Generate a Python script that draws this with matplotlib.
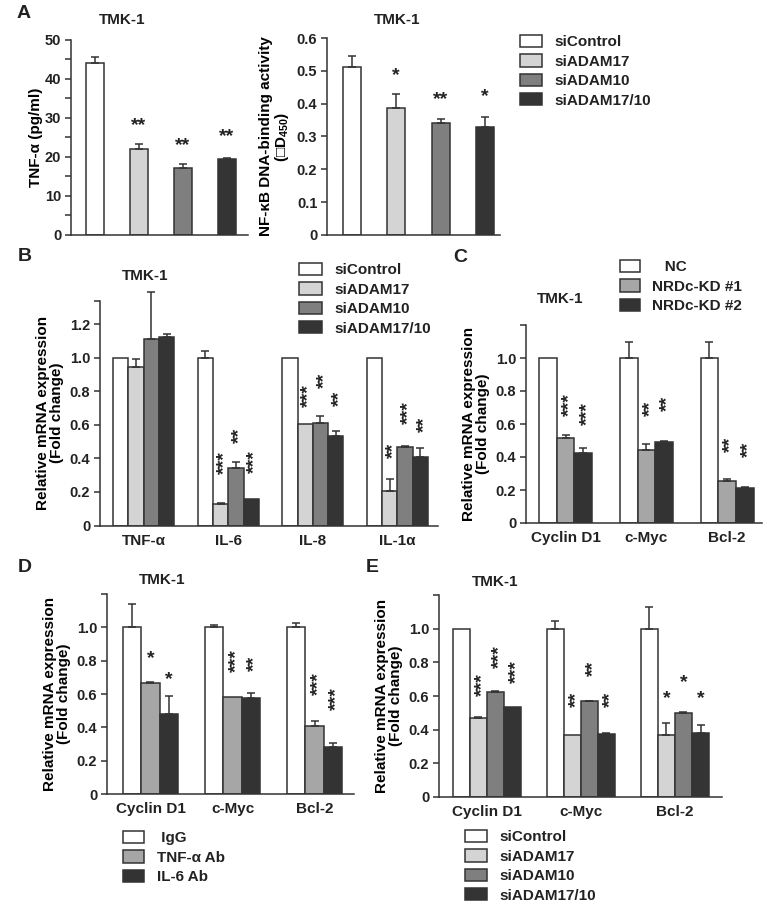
import numpy as np
import matplotlib
matplotlib.use('Agg')
import matplotlib.pyplot as plt

plt.rcParams['font.family'] = ['Liberation Sans', 'DejaVu Sans']
plt.rcParams['font.weight'] = 'bold'
plt.rcParams['axes.labelweight'] = 'bold'
plt.rcParams['mathtext.fontset'] = 'custom'
plt.rcParams['mathtext.bf'] = 'Liberation Sans:bold'
plt.rcParams['mathtext.rm'] = 'Liberation Sans:bold'
plt.rcParams['mathtext.default'] = 'bf'
plt.rcParams['text.color'] = '#222222'
plt.rcParams['xtick.color'] = '#222222'
plt.rcParams['ytick.color'] = '#222222'

# ---- data ----
si_labels = ['siControl', 'siADAM17', 'siADAM10', 'siADAM17/10']
si_colors = ['white', '#d4d4d4', '#7f7f7f', '#343434']

# A: TNF-alpha secretion and NF-kB activity
tnf_vals = [44.0, 22.05, 17.26, 19.57]
tnf_err = [1.7, 1.3, 0.85, 0.17]
tnf_stars = ['', '**', '**', '**']
tnf_star_y = [0, 29.1, 23.9, 26.1]
nfkb_vals = [0.513, 0.388, 0.340, 0.330]
nfkb_err = [0.031, 0.041, 0.014, 0.030]
nfkb_stars = ['', '*', '**', '*']
nfkb_star_y = [0, 0.498, 0.423, 0.432]

# B: cytokine mRNA
b_genes = ['TNF-α', 'IL-6', 'IL-8', 'IL-1α']
b_ctrl = [1.0, 1.0, 1.0, 1.0]
b_a17 = [0.942, 0.131, 0.604, 0.205]
b_a10 = [1.111, 0.344, 0.608, 0.469]
b_a1710 = [1.125, 0.155, 0.535, 0.41]
b_ctrl_err = [0, 0.04, 0, 0]
b_a17_err = [0.048, 0.004, 0, 0.069]
b_a10_err = [0.277, 0.032, 0.046, 0.006]
b_a1710_err = [0.016, 0, 0.03, 0.05]
b_a17_stars = ['', '***', '***', '**']
b_a17_star_y = [0, 0.376, 0.775, 0.447]
b_a10_stars = ['', '**', '**', '***']
b_a10_star_y = [0, 0.535, 0.863, 0.672]
b_a1710_stars = ['', '***', '**', '**']
b_a1710_star_y = [0, 0.378, 0.755, 0.604]

# C: NRDc knockdown
target_genes = ['Cyclin D1', 'c-Myc', 'Bcl-2']
c_labels = ['   NC', 'NRDc-KD #1', 'NRDc-KD #2']
c_colors = ['white', '#a6a6a6', '#333333']
c_nc = [1.0, 1.0, 1.0]
c_kd1 = [0.513, 0.443, 0.252]
c_kd2 = [0.427, 0.493, 0.211]
c_nc_err = [0, 0.097, 0.10]
c_kd1_err = [0.02, 0.034, 0.014]
c_kd2_err = [0.026, 0.006, 0.01]
c_kd1_stars = ['***', '**', '**']
c_kd1_star_y = [0.72, 0.694, 0.479]
c_kd2_stars = ['***', '**', '**']
c_kd2_star_y = [0.664, 0.728, 0.447]

# D: neutralizing antibodies
d_labels = [' IgG', 'TNF-α Ab', 'IL-6 Ab']
d_colors = ['white', '#a6a6a6', '#333333']
d_igg = [1.0, 1.0, 1.0]
d_tnf = [0.669, 0.585, 0.409]
d_il6 = [0.481, 0.577, 0.281]
d_igg_err = [0.14, 0.014, 0.028]
d_tnf_err = [0.004, 0, 0.028]
d_il6_err = [0.11, 0.032, 0.028]
d_tnf_stars = ['*', '***', '***']
d_tnf_star_y = [0.834, 0.798, 0.661]
d_il6_stars = ['*', '**', '***']
d_il6_star_y = [0.709, 0.784, 0.571]

# E: ADAM knockdown, target genes
e_ctrl = [1.0, 1.0, 1.0]
e_a17 = [0.47, 0.369, 0.367]
e_a10 = [0.625, 0.569, 0.5]
e_a1710 = [0.536, 0.373, 0.383]
e_ctrl_err = [0, 0.048, 0.131]
e_a17_err = [0.008, 0, 0.07]
e_a10_err = [0.004, 0.004, 0.006]
e_a1710_err = [0, 0.006, 0.047]
e_a17_stars = ['***', '**', '*']
e_a17_star_y = [0.665, 0.579, 0.605]
e_a10_stars = ['***', '**', '*']
e_a10_star_y = [0.835, 0.762, 0.704]
e_a1710_stars = ['***', '**', '*']
e_a1710_star_y = [0.744, 0.579, 0.605]

EDGE = '#333333'
W, H = 767, 911
fig = plt.figure(figsize=(W / 100, H / 100), dpi=100)


def box(x0, y0, x1, y1):
    return [x0 / W, 1 - y1 / H, (x1 - x0) / W, (y1 - y0) / H]


def style(ax, ylim, xlim, yticks, ytl, top_tick=True):
    for s in ['top', 'right']:
        ax.spines[s].set_visible(False)
    for s in ['left', 'bottom']:
        ax.spines[s].set_color(EDGE)
        ax.spines[s].set_linewidth(1.1)
    ax.set_ylim(*ylim)
    ax.set_xlim(*xlim)
    ax.set_yticks(yticks)
    ax.set_yticklabels(ytl, fontsize=10.5)
    if top_tick:
        ax.set_yticks([ylim[1]], minor=True)
    ax.tick_params(axis='y', which='both', direction='out', length=4, width=1.1, color=EDGE, pad=3)
    ax.tick_params(axis='x', length=0, pad=6, labelsize=11)


def stars(ax, xs, ys, marks, rotate):
    for x, y, s in zip(xs, ys, marks):
        if not s:
            continue
        if rotate and len(s) > 1:
            ax.annotate(s, (x, y), xytext=(2.7, 0), textcoords='offset points', rotation=90,
                        ha='center', va='center', fontsize=14, fontweight='bold',
                        annotation_clip=False)
        else:
            ax.annotate(s, (x, y), xytext=(0, -2.7), textcoords='offset points',
                        ha='center', va='center', fontsize=14, fontweight='bold',
                        annotation_clip=False)


def bars(ax, x, vals, errs, color, label, width):
    b = ax.bar(x, vals, width, color=color, edgecolor=EDGE, linewidth=1.1, label=label, zorder=2)
    e = np.asarray(errs, dtype=float)
    m = e > 0
    if m.any():
        ax.errorbar(np.asarray(x)[m], np.asarray(vals)[m], yerr=[np.zeros(m.sum()), e[m]],
                    fmt='none', ecolor=EDGE, elinewidth=1.1, capsize=3, capthick=1.1,
                    zorder=3, clip_on=False)
    return b


def grouped(ax, series, errs, colors, labels, width):
    n = len(series)
    x = np.arange(len(series[0]))
    offs = (np.arange(n) - (n - 1) / 2) * width
    hs = [bars(ax, x + offs[i], series[i], errs[i], colors[i], labels[i], width) for i in range(n)]
    return x, offs, hs


def legend(handles, labels, x, y, hl):
    fig.legend(handles, labels, loc='upper left', bbox_to_anchor=(x / W, 1 - y / H),
               frameon=False, borderpad=0, borderaxespad=0, handlelength=hl,
               handleheight=0.85, handletextpad=0.8, labelspacing=0.33, fontsize=11)


def label(x, y, s, size=11):
    fig.text(x / W, 1 - y / H, s, ha='center', va='center', fontsize=size)


# ---- A left ----
ax = fig.add_axes(box(71, 40, 248, 235))
xa = np.arange(4)
hA = [bars(ax, [xa[i]], [tnf_vals[i]], [tnf_err[i]], si_colors[i], si_labels[i], 0.41) for i in range(4)]
stars(ax, xa, tnf_star_y, tnf_stars, False)
style(ax, (0, 50), (-0.545, 3.48), np.arange(0, 51, 10), [str(v) for v in range(0, 51, 10)], top_tick=False)
ax.set_yticks(np.arange(5, 50, 10), minor=True)
ax.set_xticks([])
ax.set_ylabel('TNF-α (pg/ml)', fontsize=11, labelpad=1)
label(122, 20, 'TMK-1')
label(24, 13, 'A', 14)

# ---- A right ----
ax = fig.add_axes(box(327, 38, 500, 235))
for i in range(4):
    bars(ax, [xa[i]], [nfkb_vals[i]], [nfkb_err[i]], si_colors[i], si_labels[i], 0.406)
stars(ax, xa, nfkb_star_y, nfkb_stars, False)
style(ax, (0, 0.6), (-0.56, 3.34), np.arange(0, 0.61, 0.1), ['0', '0.1', '0.2', '0.3', '0.4', '0.5', '0.6'], top_tick=False)
ax.set_xticks([])
ax.set_ylabel('NF-κB DNA-binding activity\n(□D$_{450}$)', fontsize=11, labelpad=4, linespacing=1.0)
label(397, 20, 'TMK-1')
legend(hA, si_labels, 520, 35, 1.45)

# ---- B ----
ax = fig.add_axes(box(100, 300.5, 438, 525.5))
x, offs, hB = grouped(ax, [b_ctrl, b_a17, b_a10, b_a1710],
                      [b_ctrl_err, b_a17_err, b_a10_err, b_a1710_err], si_colors, si_labels, 0.181)
stars(ax, x + offs[1], b_a17_star_y, b_a17_stars, True)
stars(ax, x + offs[2], b_a10_star_y, b_a10_stars, True)
stars(ax, x + offs[3], b_a1710_star_y, b_a1710_stars, True)
style(ax, (0, 1.34), (-0.516, 3.48), np.arange(0, 1.21, 0.2), ['0', '0.2', '0.4', '0.6', '0.8', '1.0', '1.2'])
ax.set_xticks(x)
ax.set_xticklabels(b_genes)
ax.set_ylabel('Relative mRNA expression\n(Fold change)', fontsize=11, labelpad=4, linespacing=1.0)
label(145, 276, 'TMK-1')
label(25, 257, 'B', 14)
legend(hB, si_labels, 299, 263, 1.5)

# ---- C ----
ax = fig.add_axes(box(526, 325, 762, 523))
x, offs, hC = grouped(ax, [c_nc, c_kd1, c_kd2], [c_nc_err, c_kd1_err, c_kd2_err], c_colors, c_labels, 0.22)
stars(ax, x + offs[1], c_kd1_star_y, c_kd1_stars, True)
stars(ax, x + offs[2], c_kd2_star_y, c_kd2_stars, True)
style(ax, (0, 1.2), (-0.49, 2.43), np.arange(0, 1.01, 0.2), ['0', '0.2', '0.4', '0.6', '0.8', '1.0'])
ax.set_xticks(x)
ax.set_xticklabels(target_genes)
ax.set_ylabel('Relative mRNA expression\n(Fold change)', fontsize=11, labelpad=4, linespacing=1.0)
label(560, 299, 'TMK-1')
label(460, 258, 'C', 14)
legend(hC, c_labels, 620, 260, 1.3)

# ---- D ----
ax = fig.add_axes(box(107, 594, 354, 794))
x, offs, hD = grouped(ax, [d_igg, d_tnf, d_il6], [d_igg_err, d_tnf_err, d_il6_err], d_colors, d_labels, 0.223)
stars(ax, x + offs[1], d_tnf_star_y, d_tnf_stars, True)
stars(ax, x + offs[2], d_il6_star_y, d_il6_stars, True)
style(ax, (0, 1.2), (-0.53, 2.48), np.arange(0, 1.01, 0.2), ['0', '0.2', '0.4', '0.6', '0.8', '1.0'])
ax.set_xticks(x)
ax.set_xticklabels(target_genes)
ax.set_ylabel('Relative mRNA expression\n(Fold change)', fontsize=11, labelpad=4, linespacing=1.0)
label(162, 580, 'TMK-1')
label(25, 567, 'D', 14)
legend(hD, d_labels, 123, 831, 1.4)

# ---- E ----
ax = fig.add_axes(box(439, 595, 722, 797))
x, offs, hE = grouped(ax, [e_ctrl, e_a17, e_a10, e_a1710],
                      [e_ctrl_err, e_a17_err, e_a10_err, e_a1710_err], si_colors, si_labels, 0.181)
stars(ax, x + offs[1], e_a17_star_y, e_a17_stars, True)
stars(ax, x + offs[2], e_a10_star_y, e_a10_stars, True)
stars(ax, x + offs[3], e_a1710_star_y, e_a1710_stars, True)
style(ax, (0, 1.2), (-0.51, 2.5), np.arange(0, 1.01, 0.2), ['0', '0.2', '0.4', '0.6', '0.8', '1.0'])
ax.set_xticks(x)
ax.set_xticklabels(target_genes)
ax.set_ylabel('Relative mRNA expression\n(Fold change)', fontsize=11, labelpad=4, linespacing=1.0)
label(495, 582, 'TMK-1')
label(372, 568, 'E', 14)
legend(hE, si_labels, 465, 830, 1.45)

fig.savefig('out.png', dpi=100, facecolor='white')
